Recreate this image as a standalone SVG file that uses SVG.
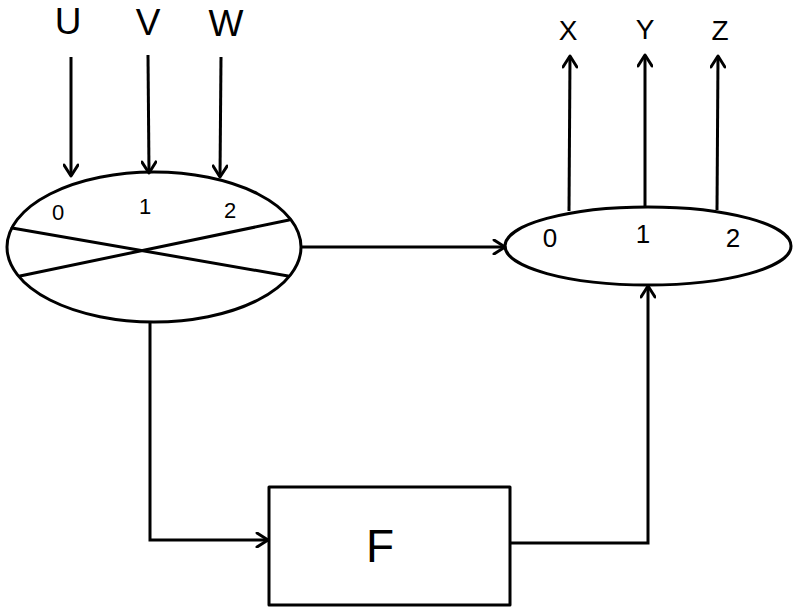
<svg xmlns="http://www.w3.org/2000/svg" width="795" height="611" viewBox="0 0 795 611">
<style>
.s{fill:none;stroke:#000;stroke-width:3;stroke-linecap:round;stroke-linejoin:round}
.c{stroke:#000;stroke-width:3;fill:none}
text{font-family:"Liberation Sans",Arial,sans-serif;fill:#000;text-anchor:middle}
.in{font-size:37px}
.out{font-size:28px}
.f{font-size:46px}
.sm{font-size:22px}
.sm2{font-size:26px}
</style>
<defs>
<marker id="a" markerWidth="16" markerHeight="16" refX="13" refY="8" orient="auto" markerUnits="userSpaceOnUse">
<path d="M2,1 L13,8 L2,15" fill="none" stroke="#000" stroke-width="3" stroke-linecap="round" stroke-linejoin="round"/>
</marker>
</defs>
<rect width="795" height="611" fill="#fff"/>
<g id="inputs">
<text class="in" x="68" y="34">U</text>
<text class="in" x="148" y="35">V</text>
<text class="in" x="226" y="36">W</text>
</g>
<g id="outputs">
<text class="out" x="568" y="40">X</text>
<text class="out" x="645" y="39">Y</text>
<text class="out" x="720" y="40">Z</text>
</g>
<g id="node-left">
<ellipse class="s" cx="154" cy="247" rx="147" ry="75"/>
<line class="s" x1="12" y1="228" x2="288" y2="276"/>
<line class="s" x1="20" y1="276" x2="289" y2="220"/>
<text class="sm" x="58" y="220">0</text>
<text class="sm" x="145" y="214">1</text>
<text class="sm" x="230" y="218">2</text>
</g>
<g id="node-right">
<ellipse class="s" cx="648" cy="246" rx="143" ry="39"/>
<text class="sm2" x="550" y="247">0</text>
<text class="sm2" x="643" y="243">1</text>
<text class="sm2" x="733" y="247">2</text>
</g>
<g id="node-F">
<rect class="s" x="269" y="487" width="241" height="118"/>
<text class="f" x="380" y="562">F</text>
</g>
<g id="connectors">
<line class="c" x1="71" y1="57" x2="71" y2="176" marker-end="url(#a)"/>
<line class="c" x1="148" y1="55" x2="149" y2="173" marker-end="url(#a)"/>
<line class="c" x1="221" y1="57" x2="220" y2="177" marker-end="url(#a)"/>
<line class="c" x1="569" y1="211" x2="570" y2="56" marker-end="url(#a)"/>
<line class="c" x1="645" y1="206" x2="645" y2="55" marker-end="url(#a)"/>
<line class="c" x1="717" y1="210" x2="718" y2="56" marker-end="url(#a)"/>
<line class="c" x1="301" y1="247" x2="505" y2="247" marker-end="url(#a)"/>
<polyline class="c" points="150,322 150,540 268,540" marker-end="url(#a)"/>
<polyline class="c" points="510,543 648,543 648,286" marker-end="url(#a)"/>
</g>
</svg>
